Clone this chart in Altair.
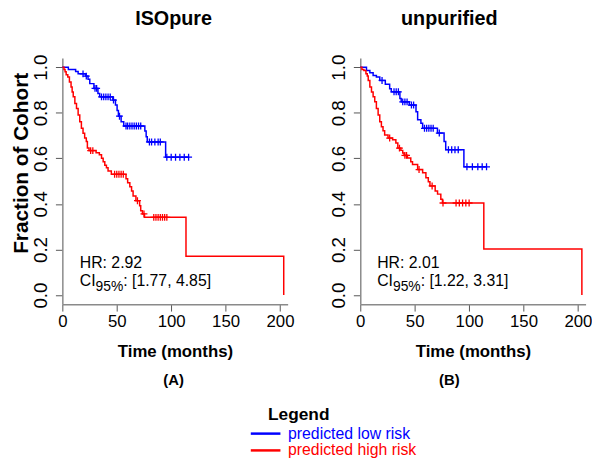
import altair as alt
import pandas as pd

FONT = "Liberation Sans"

# ---------------- data ----------------
panel_titles = ["ISOpure", "unpurified"]
panel_tags = ["(A)", "(B)"]
hr_texts = ["HR: 2.92", "HR: 2.01"]
ci_ranges = [": [1.77, 4.85]", ": [1.22, 3.31]"]
ci_prefix = "CI"
ci_sub = "95%"
x_title = "Time (months)"
y_title = "Fraction of Cohort"
legend_title = "Legend"
legend_labels = ["predicted low risk", "predicted high risk"]
legend_colors = ["#0000ff", "#ff0000"]
x_ticks = [0, 50, 100, 150, 200]
y_ticks = [0.0, 0.2, 0.4, 0.6, 0.8, 1.0]

iso_low_t = [5.5, 12.2, 14.5, 21.3, 23.6, 25.2, 29.0, 32.7, 34.3, 46.4,
             48.8, 50.3, 51.5, 54.0, 56.4, 75.8, 77.0, 78.0, 94.9]
iso_low_s = [0.990, 0.981, 0.971, 0.961, 0.947, 0.928, 0.907, 0.885, 0.870, 0.856,
             0.834, 0.810, 0.785, 0.761, 0.742, 0.720, 0.695, 0.672, 0.605]
iso_low_c = [19, 22, 30, 31.5, 36, 38, 40, 42, 44, 47, 52.5, 58.5, 60, 62, 64,
             66, 68, 70, 72, 80, 82, 85, 88, 90, 96, 100, 104, 108, 112, 116]

iso_high_t = [1.5, 2.5, 3.5, 5.0, 6.5, 8.0, 9.0, 10.0, 11.5, 13.0,
              14.5, 16.0, 17.5, 19.0, 20.5, 22.0, 23.0, 24.5, 31.0, 34.0,
              36.0, 37.5, 39.0, 40.5, 42.0, 45.0, 58.5, 60.0, 62.0, 63.6,
              65.0, 67.6, 71.0, 72.0, 73.6, 75.5, 113.6, 203.4]
iso_high_s = [0.990, 0.980, 0.967, 0.957, 0.935, 0.913, 0.891, 0.870, 0.841, 0.819,
              0.790, 0.761, 0.732, 0.710, 0.689, 0.674, 0.645, 0.634, 0.625, 0.616,
              0.600, 0.585, 0.570, 0.559, 0.544, 0.530, 0.510, 0.493, 0.475, 0.457,
              0.435, 0.414, 0.392, 0.370, 0.356, 0.341, 0.170, 0.0]
iso_high_c = [26, 28, 48, 50, 52, 54, 56, 69, 75, 84, 86, 88, 90, 92, 94, 96]

unp_low_t = [5.7, 8.8, 11.8, 14.8, 17.9, 23.0, 27.0, 28.5, 36.4, 37.6,
             45.0, 51.2, 52.7, 55.7, 57.3, 70.9, 77.0, 78.5, 95.2]
unp_low_s = [0.986, 0.976, 0.964, 0.957, 0.942, 0.925, 0.906, 0.892, 0.863, 0.848,
             0.834, 0.805, 0.769, 0.754, 0.732, 0.711, 0.674, 0.638, 0.563]
unp_low_c = [20, 31, 33, 35, 39, 41, 43, 47, 49, 59, 61, 63, 65, 67, 72.6,
             81, 84, 87, 90, 98, 103, 108, 112, 116]

unp_high_t = [1.5, 3.3, 5.2, 6.4, 7.3, 8.8, 10.3, 11.8, 13.3, 14.8,
              16.4, 17.9, 19.4, 20.9, 22.4, 25.5, 29.7, 32.7, 34.5, 37.3,
              39.0, 40.3, 43.3, 46.4, 48.0, 52.7, 57.3, 60.3, 62.5, 64.0,
              68.8, 71.0, 74.0, 75.5, 113.5, 203.6]
unp_high_s = [0.990, 0.986, 0.971, 0.961, 0.942, 0.913, 0.891, 0.870, 0.848, 0.819,
              0.790, 0.761, 0.739, 0.721, 0.703, 0.689, 0.682, 0.667, 0.645, 0.635,
              0.624, 0.613, 0.602, 0.585, 0.573, 0.551, 0.537, 0.515, 0.497, 0.479,
              0.457, 0.443, 0.421, 0.404, 0.202, 0.0]
unp_high_c = [27, 36, 41, 42.5, 54, 66, 76, 88, 91, 94, 97, 100]

W, H = 228, 249
X_DOMAIN = [0, 207]
Y_DOMAIN = [-0.04, 1.04]
PLUS = "M-1,0L1,0M0,-1L0,1"


def km_frame(times, survs, censors):
    pts = [(0.0, 1.0)] + list(zip(times, survs))
    end = max(censors) if censors else pts[-1][0]
    if end > pts[-1][0]:
        pts.append((end, pts[-1][1]))
    return pd.DataFrame({"t": [p[0] for p in pts], "s": [p[1] for p in pts],
                         "i": list(range(len(pts)))})


def censor_frame(times, survs, censors):
    rows = []
    for c in censors:
        s = 1.0
        for t, v in zip(times, survs):
            if t <= c:
                s = v
        rows.append((c, s))
    return pd.DataFrame({"t": [r[0] for r in rows], "s": [r[1] for r in rows]})


def encodings(show_y_title):
    x = alt.X("t:Q", scale=alt.Scale(domain=X_DOMAIN, nice=False, zero=False),
              axis=alt.Axis(values=x_ticks, format="d", title=x_title,
                            titleFontSize=17, titleFontWeight="bold", titlePadding=14,
                            labelFontSize=17, labelPadding=3, labelFlush=False,
                            labelOverlap=False, tickSize=7, grid=False))
    yaxis = dict(values=y_ticks, format=".1f", labelFontSize=19, labelAngle=270,
                 labelPadding=5, labelFlush=False, labelOverlap=False, tickSize=7,
                 grid=False)
    if show_y_title:
        yaxis.update(title=y_title, titleFontSize=21, titleFontWeight="bold",
                     titlePadding=0, titleY=106)
    else:
        yaxis.update(title=None)
    y = alt.Y("s:Q", scale=alt.Scale(domain=Y_DOMAIN, nice=False, zero=False),
              axis=alt.Axis(**yaxis))
    return x, y


def text_layer(x, y, t, s, txt, **kw):
    df = pd.DataFrame({"t": [t], "s": [s], "txt": [txt]})
    return alt.Chart(df).mark_text(color="black", **kw).encode(x=x, y=y, text="txt:N")


def panel(idx, low, high, text_x, center_x, show_y_title):
    x, y = encodings(show_y_title)
    layers = []
    for (tt, ss, cc), col in zip([low, high], legend_colors):
        layers.append(alt.Chart(km_frame(tt, ss, cc)).mark_line(
            interpolate="step-after", strokeWidth=1.5, color=col
        ).encode(x=x, y=y, order="i:Q"))
        layers.append(alt.Chart(censor_frame(tt, ss, cc)).mark_point(
            shape=PLUS, size=49, filled=False, strokeWidth=1.3, color=col, opacity=1
        ).encode(x=x, y=y))
    layers.append(text_layer(x, y, text_x, 0.118, hr_texts[idx],
                             align="left", baseline="alphabetic", fontSize=16))
    layers.append(text_layer(x, y, text_x, 0.040, ci_prefix,
                             align="left", baseline="alphabetic", fontSize=16))
    layers.append(text_layer(x, y, text_x, 0.040, ci_sub, align="left",
                             baseline="alphabetic", fontSize=14, dx=16, dy=5))
    layers.append(text_layer(x, y, text_x, 0.040, ci_ranges[idx], align="left",
                             baseline="alphabetic", fontSize=16, dx=44))
    # panel title above the plot and panel tag below it
    layers.append(text_layer(x, y, center_x, 1.2547, panel_titles[idx], align="center",
                             baseline="top", fontSize=20, fontWeight="bold"))
    layers.append(text_layer(x, y, center_x, -0.372, panel_tags[idx], align="center",
                             baseline="middle", fontSize=15, fontWeight="bold"))
    return alt.layer(*layers).properties(width=W, height=H)


left = panel(0, (iso_low_t, iso_low_s, iso_low_c), (iso_high_t, iso_high_s, iso_high_c),
             16, 102.2, True)
right = panel(1, (unp_low_t, unp_low_s, unp_low_c), (unp_high_t, unp_high_s, unp_high_c),
              15.5, 81.8, False)

# legend: its origin lines up with the left plot's origin
leg_df = pd.DataFrame({"label": legend_labels})
leg_y = alt.Y("label:N", scale=alt.Scale(type="point", domain=legend_labels,
                                          range=[36, 53], padding=0), axis=None)
leg_c = alt.Color("label:N", scale=alt.Scale(domain=legend_labels, range=legend_colors),
                  legend=None)
leg_rules = alt.Chart(leg_df).mark_rule(strokeWidth=2.5).encode(
    y=leg_y, color=leg_c, x=alt.value(190.7), x2=alt.value(220.7))
leg_text = alt.Chart(leg_df).mark_text(align="left", baseline="middle", fontSize=16).encode(
    y=leg_y, color=leg_c, x=alt.value(228.4), text="label:N")
leg_title = alt.Chart(pd.DataFrame({"txt": [legend_title]})).mark_text(
    align="center", baseline="alphabetic", fontSize=17.5, fontWeight="bold", color="black"
).encode(x=alt.value(239.2), y=alt.value(22), text="txt:N")
legend = alt.layer(leg_title, leg_rules, leg_text).properties(width=300, height=56)

chart = alt.vconcat(
    alt.hconcat(left, right, spacing=35.5),
    legend, spacing=10
).properties(
    padding={"left": 3, "top": -2, "right": 0, "bottom": 0}
).configure(font=FONT).configure_view(stroke=None).configure_axis(
    labelFont=FONT, titleFont=FONT, labelColor="black", titleColor="black",
    domainColor="#8a8a8a", domainWidth=1.5, tickColor="#555555", tickWidth=1
)

chart.save("out.html", embed_options={"renderer": "svg", "actions": False})
